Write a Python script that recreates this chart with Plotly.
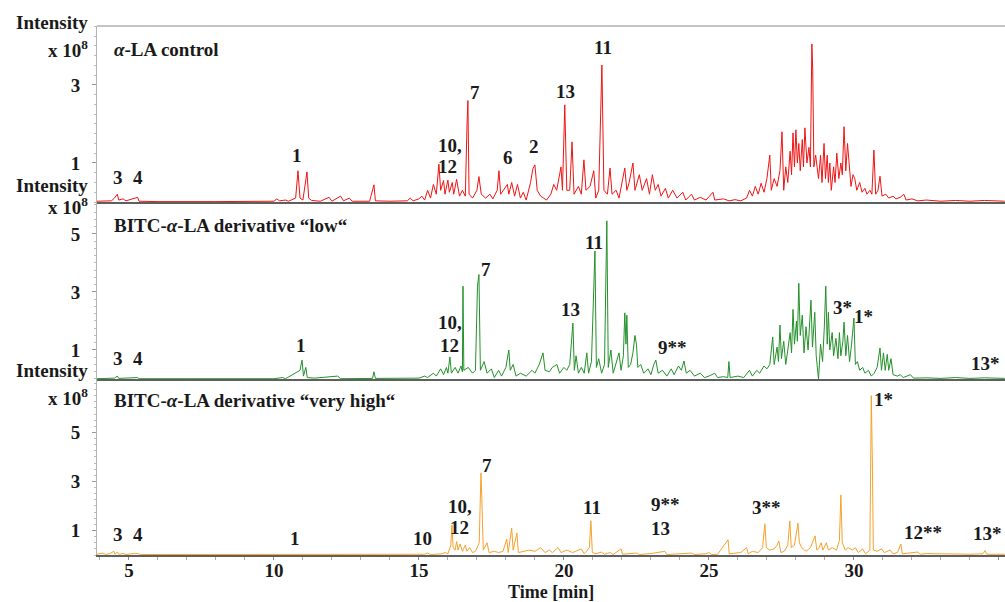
import plotly.graph_objects as go
from plotly.subplots import make_subplots

# ---------------- data (time [min], intensity [x 1e8]) ----------------
red_points = [
    (3.9, 0.02), (4.4, 0.03), (4.5, 0.1), (4.6, 0.2), (4.65, 0.05), (4.8, 0.08), (4.9, 0.03),
    (5.3, 0.12), (5.35, 0.02), (6.0, 0.01), (8.0, 0.01), (10.0, 0.02), (10.1, 0.08), (10.2, 0.03),
    (10.4, 0.05), (10.5, 0.02), (10.75, 0.1), (10.83, 0.8), (10.9, 0.1), (11.0, 0.05), (11.14, 0.77),
    (11.2, 0.1), (11.3, 0.04), (11.6, 0.02), (11.9, 0.12), (12.0, 0.02), (12.3, 0.15), (12.4, 0.03),
    (12.6, 0.1), (12.7, 0.02), (13.3, 0.02), (13.45, 0.44), (13.5, 0.03), (14.0, 0.02), (14.6, 0.03),
    (14.7, 0.1), (14.8, 0.03), (15.0, 0.08), (15.1, 0.15), (15.2, 0.05), (15.3, 0.3), (15.4, 0.1),
    (15.5, 0.45), (15.6, 0.2), (15.69, 0.97), (15.75, 0.3), (15.85, 0.55), (15.9, 0.2), (16.0, 0.56),
    (16.05, 0.25), (16.15, 0.5), (16.2, 0.2), (16.3, 0.58), (16.4, 0.15), (16.5, 0.3), (16.6, 0.15),
    (16.66, 2.0), (16.69, 2.6), (16.73, 0.2), (16.85, 0.1), (17.0, 0.3), (17.07, 0.65), (17.15, 0.2),
    (17.3, 0.1), (17.45, 0.2), (17.55, 0.08), (17.7, 0.3), (17.76, 0.8), (17.82, 0.2), (17.95, 0.35),
    (18.05, 0.45), (18.1, 0.2), (18.2, 0.5), (18.3, 0.15), (18.4, 0.45), (18.5, 0.1), (18.6, 0.25),
    (18.7, 0.05), (18.85, 0.5), (18.93, 0.85), (19.0, 0.95), (19.08, 0.3), (19.2, 0.15), (19.3, 0.1),
    (19.4, 0.05), (19.55, 0.2), (19.65, 0.45), (19.75, 0.3), (19.9, 0.9), (19.95, 0.3), (20.03, 2.49),
    (20.1, 0.3), (20.2, 0.3), (20.28, 1.54), (20.35, 0.2), (20.5, 0.4), (20.6, 0.2), (20.69, 1.08),
    (20.76, 0.3), (20.9, 0.4), (21.03, 0.8), (21.1, 0.1), (21.2, 0.3), (21.31, 3.51), (21.38, 0.3),
    (21.5, 0.2), (21.59, 0.87), (21.66, 0.2), (21.8, 0.3), (21.9, 0.1), (22.0, 0.5), (22.1, 0.87),
    (22.17, 0.3), (22.25, 0.5), (22.38, 1.0), (22.45, 0.3), (22.6, 0.7), (22.7, 0.3), (22.85, 0.6),
    (22.95, 0.2), (23.05, 0.7), (23.15, 0.3), (23.25, 0.45), (23.35, 0.15), (23.5, 0.35), (23.6, 0.1),
    (23.75, 0.3), (23.9, 0.1), (24.1, 0.25), (24.2, 0.05), (24.4, 0.2), (24.5, 0.05), (24.7, 0.12),
    (24.9, 0.05), (25.14, 0.25), (25.2, 0.05), (25.5, 0.08), (25.7, 0.03), (25.9, 0.06), (26.1, 0.03),
    (26.3, 0.1), (26.4, 0.3), (26.5, 0.15), (26.6, 0.4), (26.7, 0.2), (26.8, 0.48), (26.9, 0.25),
    (27.0, 0.6), (27.1, 1.2), (27.15, 0.3), (27.25, 0.6), (27.35, 0.4), (27.45, 0.8), (27.52, 1.8),
    (27.58, 0.3), (27.65, 0.9), (27.72, 0.5), (27.8, 1.3), (27.85, 0.7), (27.9, 1.77), (27.95, 0.9),
    (28.0, 1.85), (28.05, 1.0), (28.1, 1.5), (28.15, 0.8), (28.22, 1.6), (28.26, 0.9), (28.31, 1.9),
    (28.38, 1.0), (28.45, 1.4), (28.5, 0.9), (28.55, 4.05), (28.58, 3.38), (28.62, 0.9), (28.68, 1.2),
    (28.72, 1.0), (28.78, 0.6), (28.85, 1.2), (28.9, 0.5), (28.97, 1.5), (29.02, 0.6), (29.08, 1.2),
    (29.12, 0.5), (29.17, 1.0), (29.22, 0.3), (29.3, 0.9), (29.35, 0.5), (29.41, 1.25), (29.48, 0.6),
    (29.55, 1.0), (29.6, 0.7), (29.66, 1.93), (29.72, 0.8), (29.78, 1.5), (29.83, 1.07), (29.9, 0.4),
    (29.97, 0.7), (30.03, 0.6), (30.1, 0.3), (30.2, 0.5), (30.28, 0.25), (30.38, 0.35), (30.45, 0.2),
    (30.55, 0.3), (30.62, 0.2), (30.69, 1.33), (30.75, 0.2), (30.83, 0.3), (30.9, 0.66), (30.97, 0.15),
    (31.1, 0.2), (31.2, 0.1), (31.35, 0.15), (31.45, 0.08), (31.6, 0.12), (31.72, 0.2), (31.8, 0.05),
    (32.0, 0.08), (32.2, 0.03), (32.5, 0.05), (33.0, 0.02), (33.5, 0.04), (34.0, 0.02), (34.5, 0.04),
    (35.2, 0.02),
]

green_points = [
    (3.9, 0.01), (4.5, 0.03), (4.6, 0.1), (4.65, 0.02), (5.3, 0.05), (5.35, 0.01), (7.0, 0.01),
    (10.0, 0.01), (10.3, 0.05), (10.4, 0.01), (10.9, 0.3), (10.97, 0.65), (11.02, 0.1), (11.1, 0.4),
    (11.15, 0.05), (11.4, 0.03), (12.2, 0.1), (12.3, 0.01), (13.4, 0.02), (13.45, 0.25), (13.5, 0.02),
    (14.5, 0.02), (15.0, 0.03), (15.2, 0.1), (15.3, 0.05), (15.5, 0.2), (15.6, 0.1), (15.75, 0.35),
    (15.85, 0.15), (15.95, 0.4), (16.0, 0.2), (16.07, 0.76), (16.12, 0.2), (16.25, 0.4), (16.35, 0.2),
    (16.45, 0.45), (16.5, 0.25), (16.52, 3.2), (16.55, 0.3), (16.7, 0.4), (16.85, 0.2), (16.95, 0.3),
    (17.02, 3.2), (17.07, 3.6), (17.12, 0.3), (17.25, 0.6), (17.35, 0.2), (17.5, 0.35), (17.6, 0.05),
    (17.75, 0.3), (17.85, 0.1), (18.0, 0.4), (18.1, 1.0), (18.15, 0.3), (18.25, 0.5), (18.35, 0.1),
    (18.5, 0.2), (18.7, 0.1), (18.9, 0.3), (19.0, 0.2), (19.15, 0.5), (19.28, 0.9), (19.35, 0.3),
    (19.5, 0.25), (19.6, 0.4), (19.76, 0.5), (19.85, 0.2), (20.0, 0.4), (20.1, 0.3), (20.2, 0.5),
    (20.31, 1.93), (20.36, 0.3), (20.42, 0.8), (20.5, 0.2), (20.6, 0.4), (20.7, 0.2), (20.79, 0.9),
    (20.85, 0.2), (20.95, 0.6), (21.07, 4.41), (21.12, 0.4), (21.2, 0.7), (21.3, 0.2), (21.4, 0.5),
    (21.48, 5.45), (21.53, 0.4), (21.62, 1.0), (21.7, 0.2), (21.8, 0.6), (21.9, 0.9), (21.97, 0.3),
    (22.05, 0.8), (22.1, 2.28), (22.14, 1.2), (22.17, 2.2), (22.22, 0.4), (22.3, 0.5), (22.38, 0.9),
    (22.45, 1.5), (22.5, 1.2), (22.55, 0.4), (22.65, 0.5), (22.75, 0.2), (22.9, 0.35), (23.0, 0.15),
    (23.1, 0.5), (23.17, 0.65), (23.25, 0.2), (23.4, 0.3), (23.55, 0.1), (23.7, 0.35), (23.8, 0.15),
    (23.95, 0.45), (24.05, 0.3), (24.14, 0.62), (24.22, 0.2), (24.35, 0.3), (24.5, 0.1), (24.7, 0.2),
    (24.85, 0.05), (25.0, 0.1), (25.2, 0.2), (25.3, 0.05), (25.5, 0.08), (25.65, 0.05), (25.69, 0.6),
    (25.73, 0.05), (26.0, 0.1), (26.2, 0.05), (26.4, 0.3), (26.5, 0.1), (26.65, 0.3), (26.75, 0.2),
    (26.9, 0.45), (27.0, 0.35), (27.1, 0.5), (27.2, 1.45), (27.25, 0.5), (27.35, 1.1), (27.4, 0.6),
    (27.45, 1.86), (27.5, 0.7), (27.58, 1.3), (27.65, 0.5), (27.72, 1.0), (27.8, 1.6), (27.85, 0.9),
    (27.9, 2.4), (27.95, 1.2), (28.02, 2.0), (28.05, 1.3), (28.1, 3.3), (28.15, 1.5), (28.22, 2.2),
    (28.28, 0.9), (28.35, 1.8), (28.42, 1.0), (28.47, 2.1), (28.52, 2.72), (28.57, 1.1), (28.65, 2.3),
    (28.7, 0.8), (28.78, 0.0), (28.85, 1.2), (28.92, 0.6), (28.98, 1.8), (29.03, 3.2), (29.08, 1.2),
    (29.12, 2.3), (29.17, 1.0), (29.25, 1.6), (29.3, 0.8), (29.38, 1.4), (29.45, 0.7), (29.5, 1.6),
    (29.55, 0.8), (29.62, 1.3), (29.66, 1.96), (29.72, 0.8), (29.78, 1.5), (29.85, 0.6), (29.92, 1.2),
    (30.0, 2.1), (30.05, 0.5), (30.12, 0.6), (30.2, 0.3), (30.3, 0.4), (30.38, 0.2), (30.5, 0.3),
    (30.6, 0.1), (30.7, 0.2), (30.8, 0.4), (30.9, 1.07), (30.95, 0.3), (31.02, 0.9), (31.08, 0.3),
    (31.15, 0.85), (31.2, 0.3), (31.28, 0.7), (31.35, 0.15), (31.5, 0.1), (31.6, 0.15), (31.7, 0.05),
    (31.95, 0.15), (32.05, 0.03), (32.5, 0.04), (33.0, 0.02), (33.5, 0.05), (34.0, 0.02), (34.5, 0.04),
    (35.2, 0.02),
]

orange_points = [
    (3.9, 0.03), (4.1, 0.08), (4.2, 0.02), (4.35, 0.06), (4.48, 0.15), (4.52, 0.03), (4.6, 0.12),
    (4.65, 0.03), (4.8, 0.06), (4.9, 0.02), (5.1, 0.05), (5.3, 0.06), (5.4, 0.02), (6.0, 0.02),
    (8.0, 0.02), (10.0, 0.02), (12.0, 0.02), (14.0, 0.02), (15.2, 0.03), (15.3, 0.08), (15.4, 0.02),
    (15.8, 0.05), (15.9, 0.1), (16.0, 0.05), (16.1, 0.4), (16.14, 1.22), (16.18, 0.3), (16.25, 0.2),
    (16.3, 0.55), (16.35, 0.2), (16.42, 0.45), (16.5, 0.15), (16.6, 0.4), (16.65, 0.15), (16.75, 0.3),
    (16.85, 0.1), (16.95, 0.15), (17.08, 0.5), (17.12, 2.3), (17.14, 3.35), (17.17, 2.3), (17.22, 0.2),
    (17.35, 0.5), (17.42, 0.1), (17.6, 0.15), (17.75, 0.1), (17.9, 0.15), (18.03, 0.65), (18.08, 0.1),
    (18.2, 1.1), (18.25, 0.2), (18.38, 0.9), (18.43, 0.1), (18.6, 0.15), (18.8, 0.2), (19.0, 0.15),
    (19.2, 0.3), (19.35, 0.1), (19.5, 0.2), (19.6, 0.1), (19.8, 0.3), (19.9, 0.1), (20.1, 0.2),
    (20.3, 0.1), (20.6, 0.25), (20.7, 0.05), (20.88, 0.3), (20.93, 1.4), (20.98, 0.1), (21.1, 0.05),
    (21.3, 0.12), (21.4, 0.03), (21.6, 0.1), (21.7, 0.02), (21.97, 0.25), (22.02, 0.03), (22.5, 0.08),
    (22.6, 0.02), (23.0, 0.06), (23.48, 0.15), (23.55, 0.02), (24.0, 0.05), (24.4, 0.08), (24.5, 0.02),
    (24.9, 0.05), (25.0, 0.1), (25.1, 0.02), (25.3, 0.03), (25.66, 0.62), (25.7, 0.05), (25.9, 0.08),
    (26.1, 0.1), (26.3, 0.3), (26.35, 0.05), (26.5, 0.15), (26.7, 0.1), (26.85, 0.3), (26.93, 1.27),
    (26.98, 0.3), (27.1, 0.2), (27.25, 0.25), (27.35, 0.4), (27.41, 0.57), (27.48, 0.1), (27.6, 0.15),
    (27.72, 0.4), (27.79, 1.39), (27.84, 0.3), (27.95, 0.4), (28.03, 0.9), (28.07, 1.3), (28.12, 0.5),
    (28.2, 0.3), (28.35, 0.15), (28.5, 0.3), (28.6, 0.6), (28.66, 0.78), (28.72, 0.2), (28.8, 0.3),
    (28.87, 0.5), (28.93, 0.2), (29.05, 0.5), (29.12, 0.2), (29.25, 0.3), (29.4, 0.2), (29.5, 0.6),
    (29.55, 2.45), (29.6, 0.5), (29.7, 0.2), (29.8, 0.3), (29.95, 0.2), (30.05, 0.3), (30.15, 0.1),
    (30.3, 0.25), (30.4, 0.05), (30.55, 0.2), (30.58, 3.0), (30.6, 6.5), (30.64, 3.5), (30.67, 0.2),
    (30.8, 0.15), (30.95, 0.25), (31.05, 0.1), (31.25, 0.2), (31.35, 0.05), (31.5, 0.1), (31.62, 0.45),
    (31.67, 0.05), (31.9, 0.08), (32.2, 0.12), (32.3, 0.03), (32.5, 0.06), (32.8, 0.05), (33.2, 0.03),
    (33.6, 0.04), (34.0, 0.03), (34.45, 0.05), (34.52, 0.18), (34.58, 0.03), (35.2, 0.03),
]

panel_titles = ["<i>α</i>-LA control",
                "BITC-<i>α</i>-LA derivative “low“",
                "BITC-<i>α</i>-LA derivative “very high“"]

p1_labels = ["3", "4", "1", "10,", "12", "7", "6", "2", "13", "11"]
p1_t = [4.62, 5.31, 10.79, 16.07, 16.0, 16.93, 18.07, 18.97, 20.07, 21.34]
p1_i = [0.64, 0.64, 1.2, 1.46, 0.9, 2.8, 1.15, 1.41, 2.82, 3.95]

p2_labels = ["3", "4", "1", "10,", "12", "7", "13", "11", "9**", "3*", "1*", "13*"]
p2_t = [4.62, 5.31, 10.93, 16.07, 16.07, 17.31, 20.24, 21.03, 23.76, 29.62, 30.34, 34.55]
p2_i = [0.72, 0.72, 1.14, 1.93, 1.17, 3.79, 2.38, 4.72, 1.1, 2.48, 2.14, 0.52]

p3_labels = ["3", "4", "1", "10", "10,", "12", "7", "11", "9**", "13", "3**", "1*", "12**", "13*"]
p3_t = [4.62, 5.31, 10.72, 15.14, 16.41, 16.41, 17.34, 20.97, 23.52, 23.34, 27.0, 31.03, 32.38, 34.59]
p3_i = [0.82, 0.82, 0.69, 0.69, 1.96, 1.14, 3.67, 1.92, 2.04, 1.1, 1.92, 6.33, 0.9, 0.86]

y_ticks = [[1, 3], [1, 3, 5], [1, 3, 5]]
y_ranges = [[0, 4.51], [0, 6.10], [0, 7.18]]
x_range = [3.9, 35.21]
x_title = "Time [min]"

# ---------------- figure ----------------
FONT = "Liberation Serif"
FS = 19
TXT = "#1a1a1a"
colors = ["#f01414", "#23912a", "#f7a12c"]

fig = make_subplots(rows=3, cols=1, shared_xaxes=True, vertical_spacing=0)

series = [red_points, green_points, orange_points]
for k, pts in enumerate(series):
    t = [p[0] for p in pts]
    v = [p[1] for p in pts]
    fig.add_trace(go.Scatter(x=t, y=v, mode="lines",
                             line=dict(color=colors[k], width=1),
                             showlegend=False, hoverinfo="skip"),
                  row=k + 1, col=1)

domains = [[0.6673, 1.0], [0.3327, 0.6673], [0.0, 0.3327]]
for k in range(3):
    yname = "yaxis" if k == 0 else f"yaxis{k + 1}"
    xname = "xaxis" if k == 0 else f"xaxis{k + 1}"
    fig.layout[yname].update(
        domain=domains[k], range=y_ranges[k], tickvals=y_ticks[k],
        showline=True, linecolor="#b4b4b4", linewidth=1,
        ticks="outside", ticklen=4, tickcolor="#999999",
        minor=dict(dtick=0.25, tick0=0, ticks="outside", ticklen=2, tickcolor="#bbbbbb"),
        showgrid=False, zeroline=False, ticklabelstandoff=8,
        tickfont=dict(family=FONT, size=FS, color=TXT, weight="bold"),
    )
    fig.layout[xname].update(
        range=x_range, showline=True, linecolor="#5f5f5f", linewidth=2,
        showgrid=False, zeroline=False,
    )

fig.update_xaxes(showticklabels=False, ticks="", row=1, col=1)
fig.update_xaxes(showticklabels=False, ticks="", row=2, col=1)
fig.update_xaxes(
    tick0=5, dtick=5, ticks="outside", ticklen=3, tickcolor="#888888",
    minor=dict(dtick=1, ticks="outside", ticklen=3, tickcolor="#aaaaaa"),
    tickfont=dict(family=FONT, size=FS, color=TXT, weight="bold"),
    showticklabels=True, ticklabelstandoff=-6,
    row=3, col=1,
)

annotations = []
# axis header labels
hdrs = [("Intensity", 1.0057), ("x 10<sup>8</sup>", 0.9565),
        ("Intensity", 0.6994), ("x 10<sup>8</sup>", 0.6597),
        ("Intensity", 0.3497), ("x 10<sup>8</sup>", 0.2987)]
for text, yp in hdrs:
    annotations.append(dict(text=f"<b>{text}</b>", xref="paper", yref="paper",
                            x=-0.008, y=yp, xanchor="right", yanchor="middle",
                            showarrow=False, font=dict(family=FONT, size=FS, color=TXT)))

# x-axis title
annotations.append(dict(text=f"<b>{x_title}</b>", xref="paper", yref="paper",
                        x=0.5, y=-0.0705, xanchor="center", yanchor="middle",
                        showarrow=False, font=dict(family=FONT, size=18, color=TXT)))

# panel titles
title_y = [0.9565, 0.6235, 0.2930]
for k, ttl in enumerate(panel_titles):
    annotations.append(dict(text=f"<b>{ttl}</b>", xref="paper", yref="paper",
                            x=0.017, y=title_y[k], xanchor="left", yanchor="middle",
                            showarrow=False, font=dict(family=FONT, size=FS, color=TXT)))

# peak labels
for k, (labs, ts, vs) in enumerate([(p1_labels, p1_t, p1_i),
                                    (p2_labels, p2_t, p2_i),
                                    (p3_labels, p3_t, p3_i)]):
    yref = "y" if k == 0 else f"y{k + 1}"
    xref = "x" if k == 0 else f"x{k + 1}"
    for lab, tt, vv in zip(labs, ts, vs):
        annotations.append(dict(text=f"<b>{lab}</b>", xref=xref, yref=yref, x=tt, y=vv,
                                xanchor="center", yanchor="middle", showarrow=False,
                                font=dict(family=FONT, size=FS, color=TXT)))

fig.update_layout(
    width=1005, height=602,
    margin=dict(l=97, r=0, t=26, b=47),
    paper_bgcolor="white", plot_bgcolor="white",
    annotations=annotations,
    shapes=[dict(type="line", xref="paper", yref="paper", x0=0.0, x1=1.0, y0=1.0, y1=1.0,
                 line=dict(color="#8a8a8a", width=1))],
)

fig.write_html("out.html", config={"displayModeBar": False},
               post_script="document.body.style.margin='0';document.body.style.overflow='hidden';")
